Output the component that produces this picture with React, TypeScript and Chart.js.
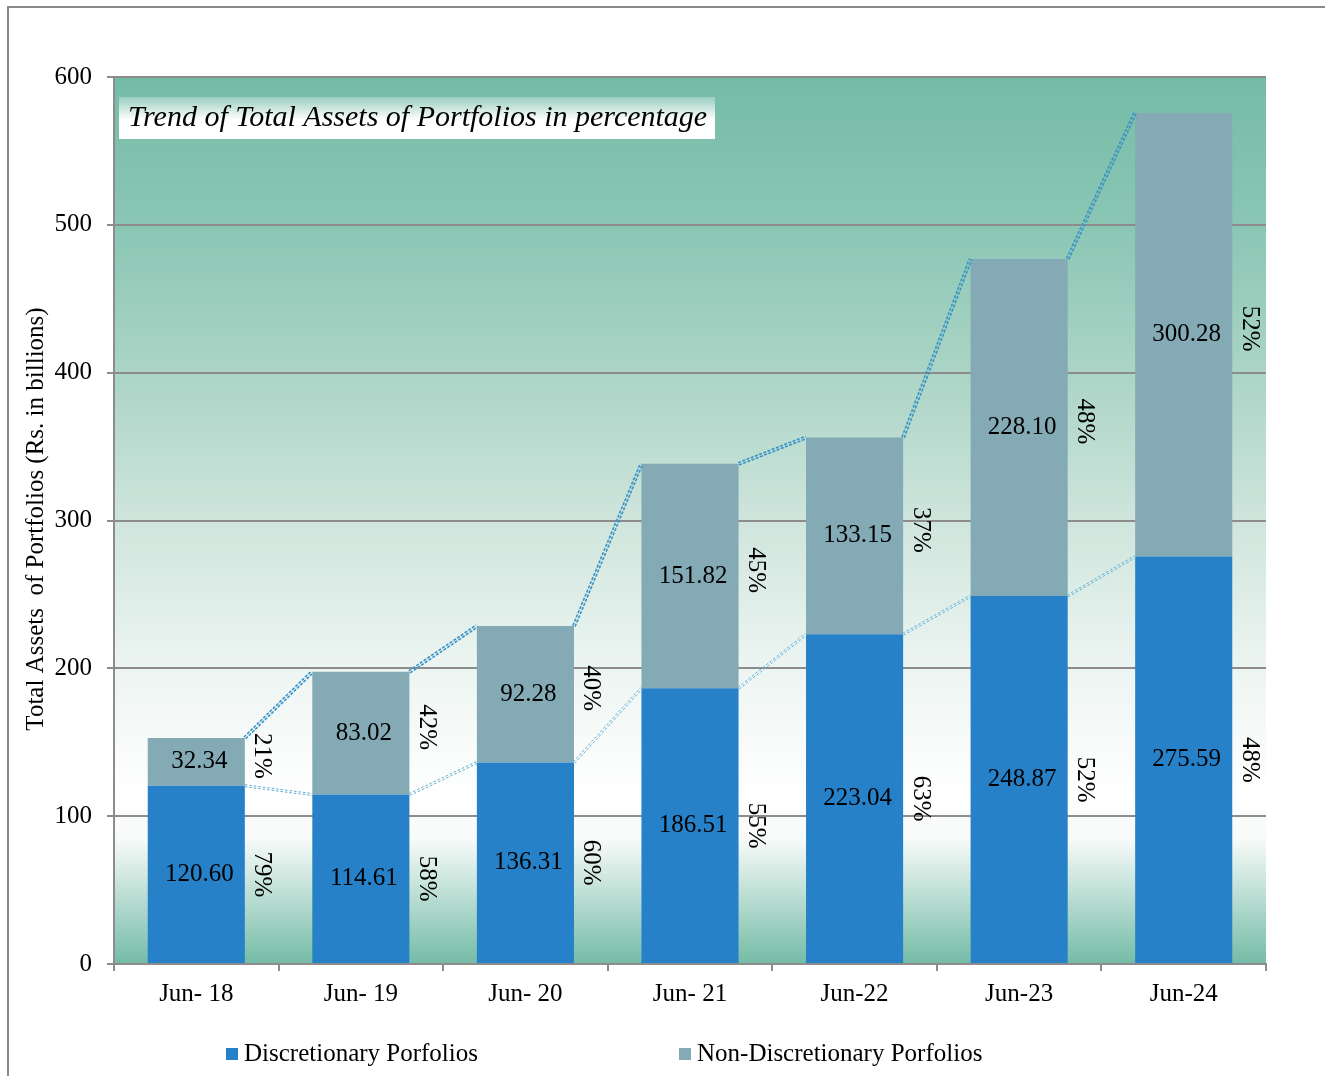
import React, { useEffect, useRef } from "react";
import { Chart, registerables } from "chart.js";

Chart.register(...registerables);

const categories = ["Jun- 18", "Jun- 19", "Jun- 20", "Jun- 21", "Jun-22", "Jun-23", "Jun-24"];
const discretionary = [120.6, 114.61, 136.31, 186.51, 223.04, 248.87, 275.59];
const nonDiscretionary = [32.34, 83.02, 92.28, 151.82, 133.15, 228.1, 300.28];
const discShare = [79, 58, 60, 55, 63, 52, 48];
const nonDiscShare = [21, 42, 40, 45, 37, 48, 52];
const yMin = 0;
const yMax = 600;
const yStep = 100;
const seriesNames = ["Discretionary Porfolios", "Non-Discretionary Porfolios"];
const chartTitle = "Trend of Total Assets of Portfolios in percentage";
const yAxisTitle = "Total Assets  of Portfolios (Rs. in billions)";

const SERIF = '"Liberation Serif", "Times New Roman", serif';
const BLUE = "#2681c8";
const GREY = "#83aab5";

function doubleLine(ctx: CanvasRenderingContext2D, x1: number, y1: number, x2: number, y2: number, off: number, w: number, color: string, dash: number[]) {
  const dx = x2 - x1;
  const dy = y2 - y1;
  const L = Math.hypot(dx, dy) || 1;
  const nx = -dy / L;
  const ny = dx / L;
  ctx.save();
  ctx.strokeStyle = color;
  ctx.lineWidth = w;
  ctx.setLineDash(dash);
  for (const s of [-1, 1]) {
    ctx.beginPath();
    ctx.moveTo(x1 + nx * off * s, y1 + ny * off * s);
    ctx.lineTo(x2 + nx * off * s, y2 + ny * off * s);
    ctx.stroke();
  }
  ctx.restore();
}

export default function App() {
  const ref = useRef<HTMLCanvasElement>(null);

  useEffect(() => {
    const canvas = ref.current;
    if (!canvas) return;

    const decor = {
      id: "decor",
      beforeDraw(chart: any) {
        const { ctx, chartArea: a } = chart;
        ctx.save();
        ctx.fillStyle = "#ffffff";
        ctx.fillRect(0, 0, chart.width, chart.height);
        const g = ctx.createLinearGradient(0, a.top, 0, a.bottom);
        g.addColorStop(0, "#74bca7");
        g.addColorStop(0.17, "#8bc6b4");
        g.addColorStop(0.34, "#acd5c7");
        g.addColorStop(0.5, "#cfe5dc");
        g.addColorStop(0.67, "#edf5f2");
        g.addColorStop(0.81, "#ffffff");
        g.addColorStop(0.86, "#f6faf8");
        g.addColorStop(1, "#74bca7");
        ctx.fillStyle = g;
        ctx.fillRect(a.left, a.top, a.right - a.left, a.bottom - a.top);
        // outer frame
        ctx.strokeStyle = "#8a8a8a";
        ctx.lineWidth = 2;
        ctx.beginPath();
        ctx.moveTo(8, chart.height);
        ctx.lineTo(8, 7);
        ctx.lineTo(chart.width, 7);
        ctx.stroke();
        ctx.restore();
      },
      beforeDatasetsDraw(chart: any) {
        const { ctx, chartArea: a } = chart;
        ctx.save();
        const bx = a.left + 5;
        const by = a.top + 20;
        const bw = 596;
        const bh = 42;
        const g = ctx.createLinearGradient(0, by, 0, by + bh);
        g.addColorStop(0, "rgba(255,255,255,0.25)");
        g.addColorStop(0.55, "rgba(255,255,255,1)");
        g.addColorStop(1, "rgba(255,255,255,1)");
        ctx.fillStyle = g;
        ctx.fillRect(bx, by, bw, bh);
        ctx.fillStyle = "#000";
        ctx.font = `italic 30px ${SERIF}`;
        ctx.textAlign = "left";
        ctx.textBaseline = "middle";
        ctx.fillText(chartTitle, bx + 9, by + bh / 2);
        ctx.restore();
      },
      afterDatasetsDraw(chart: any) {
        const { ctx } = chart;
        const m0 = chart.getDatasetMeta(0).data;
        const m1 = chart.getDatasetMeta(1).data;
        // connectors
        for (let i = 0; i < m0.length - 1; i++) {
          const a0 = m0[i], b0 = m0[i + 1];
          const a1 = m1[i], b1 = m1[i + 1];
          doubleLine(ctx, a1.x + a1.width / 2, a1.y, b1.x - b1.width / 2, b1.y, 1.2, 1.6, "#3a93c6", [3, 1.5]);
          doubleLine(ctx, a0.x + a0.width / 2, a0.y, b0.x - b0.width / 2, b0.y, 1.0, 1, "#5aaed8", [2.5, 2]);
        }
        ctx.save();
        ctx.fillStyle = "#000";
        ctx.font = `25px ${SERIF}`;
        ctx.textAlign = "center";
        ctx.textBaseline = "middle";
        const metas = [m0, m1];
        const vals = [discretionary, nonDiscretionary];
        const shares = [discShare, nonDiscShare];
        metas.forEach((meta: any[], d: number) => {
          meta.forEach((el: any, i: number) => {
            const cy = (el.y + el.base) / 2;
            ctx.fillText(vals[d][i].toFixed(2), el.x + 3, cy);
            ctx.save();
            ctx.translate(el.x + el.width / 2 + 17, cy + (d === 0 ? 0 : -6));
            ctx.rotate(Math.PI / 2);
            ctx.fillText(`${shares[d][i]}%`, 0, 0);
            ctx.restore();
          });
        });
        ctx.restore();
      },
      afterDraw(chart: any) {
        const { ctx } = chart;
        ctx.save();
        ctx.fillStyle = "#000";
        ctx.font = `25px ${SERIF}`;
        ctx.textBaseline = "middle";
        ctx.textAlign = "center";
        ctx.translate(36, 519);
        ctx.rotate(-Math.PI / 2);
        ctx.fillText(yAxisTitle, 0, 0);
        ctx.restore();

        ctx.save();
        ctx.font = `25px ${SERIF}`;
        ctx.textBaseline = "middle";
        ctx.textAlign = "left";
        const items = [
          { x: 226, color: BLUE, label: seriesNames[0] },
          { x: 679, color: GREY, label: seriesNames[1] },
        ];
        for (const it of items) {
          ctx.fillStyle = it.color;
          ctx.fillRect(it.x, 1048, 12, 12);
          ctx.fillStyle = "#000";
          ctx.fillText(it.label, it.x + 18, 1054);
        }
        ctx.restore();
      },
    };

    const chart = new Chart(canvas, {
      type: "bar",
      data: {
        labels: categories,
        datasets: [
          { label: seriesNames[0], data: discretionary, backgroundColor: BLUE, borderWidth: 0 },
          { label: seriesNames[1], data: nonDiscretionary, backgroundColor: GREY, borderWidth: 0 },
        ],
      },
      options: {
        responsive: false,
        maintainAspectRatio: false,
        animation: false,
        layout: { padding: { top: 77, right: 59, bottom: 0, left: 0 } },
        datasets: { bar: { categoryPercentage: 1, barPercentage: 0.59 } },
        plugins: {
          legend: { display: false },
          tooltip: { enabled: false },
          title: { display: false },
        },
        scales: {
          x: {
            stacked: true,
            grid: { offset: true, drawOnChartArea: false, drawTicks: true, tickLength: 7, color: "#8c8c8c", lineWidth: 2 },
            border: { display: true, color: "#8c8c8c", width: 2 },
            ticks: { color: "#000", font: { family: SERIF, size: 25 }, padding: 8, maxRotation: 0, autoSkip: false },
            afterFit(scale: any) {
              scale.height = 112;
            },
          },
          y: {
            stacked: true,
            min: yMin,
            max: yMax,
            grid: { color: "#8c8c8c", lineWidth: 2, tickLength: 7, drawTicks: true },
            border: { display: true, color: "#8c8c8c", width: 2 },
            ticks: { stepSize: yStep, color: "#000", font: { family: SERIF, size: 25 }, padding: 15 },
            afterFit(scale: any) {
              scale.width = 114;
            },
          },
        },
      },
      plugins: [decor],
    });

    return () => chart.destroy();
  }, []);

  return (
    <div style={{ position: "fixed", left: 0, top: 0, width: 1325, height: 1076, overflow: "hidden", background: "#fff" }}>
      <canvas ref={ref} width={1325} height={1076} style={{ display: "block" }} />
    </div>
  );
}
